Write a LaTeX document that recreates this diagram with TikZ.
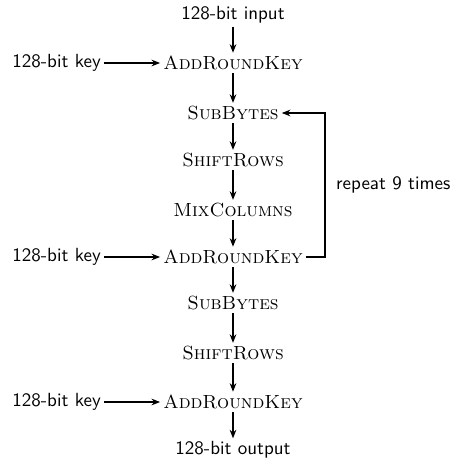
\documentclass[tikz,border=0pt]{standalone}
\usetikzlibrary{arrows.meta}
\begin{document}
\begin{tikzpicture}[x=0.526pt,y=-0.526pt,
  lab/.style={font=\sffamily, inner sep=1.5pt},
  op/.style={font=\rmfamily, inner sep=1.5pt},
  flow/.style={-{Stealth[length=4.5pt,width=3.5pt]}, line width=0.7pt}]
\useasboundingbox (0,0) rectangle (452,459);
\node[lab] (in) at (233,15) {128-bit input};
\node[op] (ark1) at (233,63) {\textsc{AddRoundKey}};
\node[op] (sb1) at (233,113) {\textsc{SubBytes}};
\node[op] (sr1) at (233,160) {\textsc{ShiftRows}};
\node[op] (mc) at (233,210) {\textsc{MixColumns}};
\node[op] (ark2) at (233,257) {\textsc{AddRoundKey}};
\node[op] (sb2) at (233,303) {\textsc{SubBytes}};
\node[op] (sr2) at (233,353) {\textsc{ShiftRows}};
\node[op] (ark3) at (233,402) {\textsc{AddRoundKey}};
\node[lab] (out) at (233,450) {128-bit output};
\node[lab, anchor=east] (k1) at (104,63) {128-bit key};
\node[lab, anchor=east] (k2) at (104,257) {128-bit key};
\node[lab, anchor=east] (k3) at (104,402) {128-bit key};
\node[lab, anchor=west] (rep) at (333,185) {repeat 9 times};
\coordinate (c1) at (325,257);
\coordinate (c2) at (325,113);
\draw[flow] (in) -- (ark1);
\draw[flow] (ark1) -- (sb1);
\draw[flow] (sb1) -- (sr1);
\draw[flow] (sr1) -- (mc);
\draw[flow] (mc) -- (ark2);
\draw[flow] (ark2) -- (sb2);
\draw[flow] (sb2) -- (sr2);
\draw[flow] (sr2) -- (ark3);
\draw[flow] (ark3) -- (out);
\draw[flow] (k1) -- (ark1);
\draw[flow] (k2) -- (ark2);
\draw[flow] (k3) -- (ark3);
\draw[flow] (ark2.east) -- (c1) -- (c2) -- (sb1.east);
\end{tikzpicture}
\end{document}
